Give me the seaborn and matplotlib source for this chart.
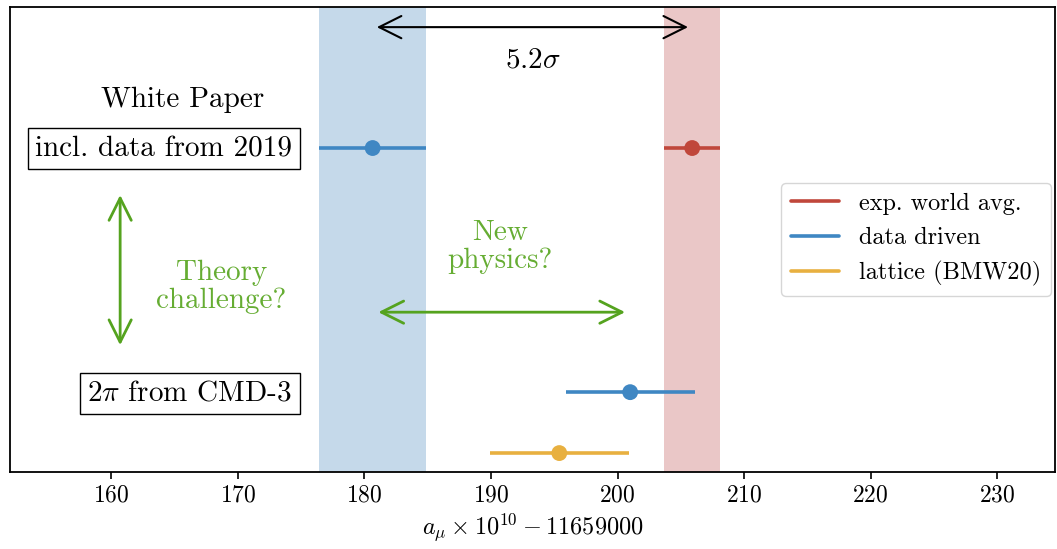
import pandas as pd
import matplotlib.pyplot as plt
import seaborn as sns
from matplotlib.lines import Line2D

# a_mu x 10^10 - 11659000
labels = ["exp. world avg.", "data driven", "lattice (BMW20)"]
colors = ["#c0473b", "#3f87c3", "#e8b040"]
band_colors = ["#eac7c7", "#c5d9ea"]

names = ["exp", "WP 2020", "CMD-3", "BMW20"]
values = [205.9, 180.65, 201.0, 195.4]
errors = [2.2, 4.25, 5.1, 5.5]
kinds = ["exp. world avg.", "data driven", "data driven", "lattice (BMW20)"]
rows = [0.697, 0.697, 0.172, 0.041]
xticks = [160, 170, 180, 190, 200, 210, 220, 230]

df = pd.DataFrame({"name": names, "value": values, "err": errors, "kind": kinds, "y": rows})
palette = dict(zip(labels, colors))
green = "#55a31f"

sns.set_style("white")
plt.rcParams["font.family"] = ["cmr10", "DejaVu Serif"]
plt.rcParams["mathtext.fontset"] = "cm"
plt.rcParams["axes.formatter.use_mathtext"] = True
plt.rcParams["text.color"] = "black"
plt.rcParams["axes.labelcolor"] = "black"
plt.rcParams["xtick.color"] = "black"

fig = plt.figure(figsize=(10.57, 5.49), dpi=100)
ax = fig.add_axes([0.0095, 0.14, 0.989, 0.847])

# bands for experiment and white paper
ax.axvspan(values[0] - errors[0], values[0] + errors[0], color=band_colors[0], lw=0, zorder=0)
ax.axvspan(values[1] - errors[1], values[1] + errors[1], color=band_colors[1], lw=0, zorder=0)

for _, r in df.iterrows():
    ax.hlines(r["y"], r["value"] - r["err"], r["value"] + r["err"],
              color=palette[r["kind"]], lw=2.6, zorder=2)
sns.scatterplot(data=df, x="value", y="y", hue="kind", palette=palette,
                s=130, edgecolor="none", legend=False, ax=ax, zorder=3)

arrow = "<->,head_length=0.8,head_width=0.4"

# 5.2 sigma arrow
ax.annotate("", xy=(values[0], 0.957), xytext=(values[1], 0.957),
            arrowprops=dict(arrowstyle=arrow, color="black", lw=1.5,
                            mutation_scale=20, shrinkA=3, shrinkB=3))
ax.text(193.3, 0.886, r"$5.2\sigma$", ha="center", va="center", fontsize=21)

ax.text(165.6, 0.80, "White Paper", ha="center", va="center", fontsize=21)
box = dict(boxstyle="square,pad=0.25", facecolor="white", edgecolor="black", lw=1)
ax.text(174.3, 0.695, "incl. data from 2019", ha="right", va="center", fontsize=21, bbox=box)
ax.text(174.3, 0.170, r"$2\pi$ from CMD-3", ha="right", va="center", fontsize=21, bbox=box)

# green arrows and questions
ax.annotate("", xy=(160.7, 0.273), xytext=(160.7, 0.596),
            arrowprops=dict(arrowstyle=arrow, color=green, lw=2,
                            mutation_scale=20, shrinkA=0, shrinkB=0))
ax.annotate("", xy=(200.6, 0.344), xytext=(181.1, 0.344),
            arrowprops=dict(arrowstyle=arrow, color=green, lw=2,
                            mutation_scale=20, shrinkA=0, shrinkB=0))
ax.text(168.7, 0.398, "Theory\nchallenge?", ha="center", va="center", fontsize=21,
        color="#66ad33", linespacing=1.05)
ax.text(190.7, 0.484, "New\nphysics?", ha="center", va="center", fontsize=21,
        color="#66ad33", linespacing=1.05)

handles = [Line2D([], [], color=c, lw=2.6) for c in colors]
ax.legend(handles, labels, loc="center right", bbox_to_anchor=(1.0, 0.5),
          fontsize=17.5, borderaxespad=0.2, handlelength=2.0)

ax.set_xlim(152, 234.6)
ax.set_ylim(0, 1)
ax.set_xticks(xticks)
ax.set_yticks([])
ax.set_ylabel("")
ax.set_xlabel(r"$a_\mu \times 10^{10} - 11659000$", fontsize=17.5)
ax.tick_params(axis="x", bottom=True, direction="out", length=5, width=1.2, labelsize=17)
for s in ax.spines.values():
    s.set_color("black")
    s.set_linewidth(1.3)

fig.savefig("out.png", dpi=100)
